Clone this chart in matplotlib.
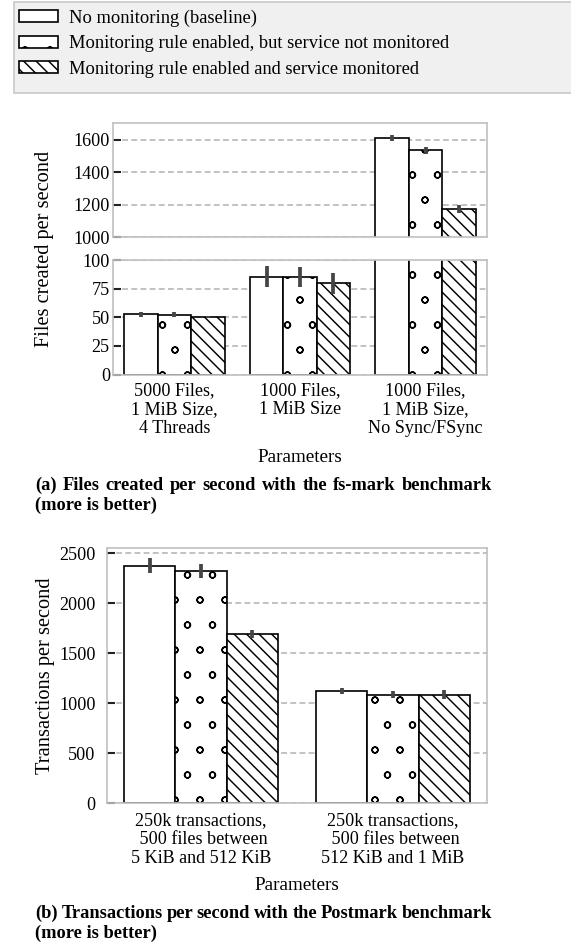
import numpy as np
import matplotlib
import matplotlib.pyplot as plt
import matplotlib.hatch
from matplotlib.patches import Patch, Rectangle

# smaller rings for the 'o' hatch, closer to the paper figure
matplotlib.hatch.SmallCircles.size = 0.12

plt.rcParams['font.family'] = ['Liberation Serif', 'DejaVu Serif']
plt.rcParams['font.size'] = 8.7
plt.rcParams['hatch.linewidth'] = 0.7

W, H, DPI = 571, 945, 150

### data
series = ["No monitoring (baseline)",
          "Monitoring rule enabled, but service not monitored",
          "Monitoring rule enabled and service monitored"]
hatches = ['', 'o', '\\\\\\\\']

fs_groups = ["5000 Files,\n1 MiB Size,\n4 Threads",
             "1000 Files,\n1 MiB Size",
             "1000 Files,\n1 MiB Size,\nNo Sync/FSync"]
fs_baseline = [52.5, 85.5, 1608]
fs_baseline_err = [2.5, 9, 20]
fs_notmon = [52.3, 85.3, 1535]
fs_notmon_err = [2.5, 9, 22]
fs_mon = [50.3, 79.5, 1170]
fs_mon_err = [1, 9, 24]

pm_groups = ["250k transactions,\n 500 files between\n5 KiB and 512 KiB",
             "250k transactions,\n 500 files between\n512 KiB and 1 MiB"]
pm_baseline = [2375, 1117]
pm_baseline_err = [72, 30]
pm_notmon = [2320, 1085]
pm_notmon_err = [72, 33]
pm_mon = [1692, 1085]
pm_mon_err = [37, 48]


def px_box(x0, y0, x1, y1):
    # pixel box (top-left origin) -> figure fraction rect
    return [x0 / W, 1 - y1 / H, (x1 - x0) / W, (y1 - y0) / H]


def style(ax, ypad):
    for s in ax.spines.values():
        s.set_color('#c0c0c0')
        s.set_linewidth(0.8)
    ax.yaxis.grid(True, linestyle=(0, (3.5, 2)), color='#b8b8b8', linewidth=0.8)
    ax.set_axisbelow(True)
    ax.tick_params(axis='y', direction='in', length=4, width=1, color='#222222', pad=ypad)
    ax.tick_params(axis='x', length=0)


def draw_bars(ax, groups, vals, errs):
    x = np.arange(len(groups))
    w = 0.8 / 3
    for i, (v, e) in enumerate(zip(vals, errs)):
        pos = x + (i - 1) * w
        ax.bar(pos, v, w, facecolor='white', edgecolor='black', linewidth=0.8,
               hatch=hatches[i], zorder=2)
        ax.errorbar(pos, v, yerr=e, fmt='none', ecolor='#454545', elinewidth=1.8,
                    capsize=0, zorder=3)
    ax.set_xticks(x)
    ax.set_xlim(-0.49, len(groups) - 0.51)


fig = plt.figure(figsize=(W / DPI, H / DPI), dpi=DPI)

# legend box
fig.patches.append(Rectangle((14 / W, 1 - 93 / H), 600 / W, 91 / H, transform=fig.transFigure,
                             facecolor='#f0f0f0', edgecolor='#c8c8c8', linewidth=0.8))
handles = [Patch(facecolor='white', edgecolor='black', linewidth=0.8, hatch=h) for h in hatches]
fig.legend(handles, series, loc='upper left', bbox_to_anchor=(12 / W, 1 - 2 / H),
           frameon=False, fontsize=8.9, handlelength=2.1, handleheight=0.65,
           handletextpad=0.6, labelspacing=0.46, borderaxespad=0)

########## (a) fs-mark, broken y axis
fs_vals = [fs_baseline, fs_notmon, fs_mon]
fs_errs = [fs_baseline_err, fs_notmon_err, fs_mon_err]

ax_hi = fig.add_axes(px_box(113, 123.3, 487, 237))
ax_lo = fig.add_axes(px_box(113, 260, 487, 374.5))
for ax in (ax_hi, ax_lo):
    draw_bars(ax, fs_groups, fs_vals, fs_errs)
    style(ax, 1.5)
ax_hi.set_ylim(1000, 1700)
ax_hi.set_yticks([1000, 1200, 1400, 1600])
ax_hi.set_xticklabels([])
ax_lo.set_ylim(0, 100)
ax_lo.set_yticks([0, 25, 50, 75, 100])
ax_lo.set_xticklabels(fs_groups, linespacing=1.15)
ax_lo.tick_params(axis='x', pad=3.8)
ax_lo.set_xlabel('Parameters', fontsize=9.2, labelpad=5.5)
fig.text(45 / W, 1 - 249 / H, 'Files created per second', rotation=90, ha='center', va='center',
         fontsize=9.8)

########## (b) Postmark
pm_vals = [pm_baseline, pm_notmon, pm_mon]
pm_errs = [pm_baseline_err, pm_notmon_err, pm_mon_err]

ax_pm = fig.add_axes(px_box(107, 548, 487, 803.3))
draw_bars(ax_pm, pm_groups, pm_vals, pm_errs)
style(ax_pm, 5.5)
ax_pm.set_ylim(0, 2550)
ax_pm.set_yticks([0, 500, 1000, 1500, 2000, 2500])
ax_pm.set_xticklabels(pm_groups, linespacing=1.15)
ax_pm.tick_params(axis='x', pad=4.3)
ax_pm.set_xlabel('Parameters', fontsize=9.2, labelpad=4.5)
fig.text(45.5 / W, 1 - 675.5 / H, 'Transactions per second', rotation=90, ha='center', va='center',
         fontsize=9.8)

########## captions (first line justified)
renderer = fig.canvas.get_renderer()
CAP = 8.8


def justified(line, x0, x1, yc):
    words = line.split()
    txts = [fig.text(0, 1 - yc / H, wd, fontweight='bold', va='center', fontsize=CAP) for wd in words]
    widths = [t.get_window_extent(renderer).width for t in txts]
    gap = ((x1 - x0) - sum(widths)) / (len(words) - 1)
    x = x0
    for t, wdt in zip(txts, widths):
        t.set_x(x / W)
        x += wdt + gap


justified("(a) Files created per second with the fs-mark benchmark", 35, 492, 485)
fig.text(35 / W, 1 - 505 / H, "(more is better)", fontweight='bold', va='center', fontsize=CAP)
justified("(b) Transactions per second with the Postmark benchmark", 35, 492, 913)
fig.text(35 / W, 1 - 933 / H, "(more is better)", fontweight='bold', va='center', fontsize=CAP)

fig.savefig('out.png', dpi=DPI)
